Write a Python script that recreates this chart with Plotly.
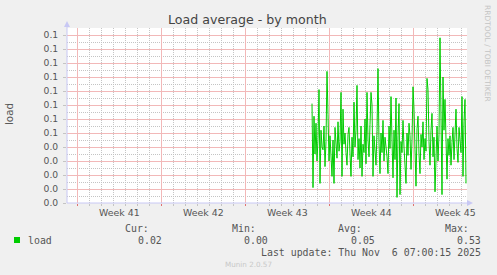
import plotly.graph_objects as go
import pandas as pd

# ---- data ----
load_values = [
    0.071, 0.011, 0.062, 0.035, 0.057, 0.030, 0.046, 0.081, 0.014, 0.052,
    0.040, 0.038, 0.055, 0.026, 0.044, 0.094, 0.063, 0.030, 0.048, 0.036,
    0.019, 0.045, 0.014, 0.054, 0.040, 0.032, 0.058, 0.037, 0.044, 0.079,
    0.019, 0.067, 0.042, 0.050, 0.036, 0.027, 0.049, 0.054, 0.035, 0.019,
    0.047, 0.033, 0.072, 0.040, 0.052, 0.084, 0.031, 0.046, 0.025, 0.055,
    0.019, 0.042, 0.036, 0.060, 0.028, 0.079, 0.045, 0.033, 0.056, 0.079,
    0.070, 0.019, 0.048, 0.038, 0.027, 0.052, 0.096, 0.043, 0.021, 0.050,
    0.036, 0.059, 0.030, 0.047, 0.041, 0.033, 0.021, 0.055, 0.039, 0.076,
    0.045, 0.018, 0.052, 0.031, 0.075, 0.004, 0.048, 0.071, 0.006, 0.044,
    0.036, 0.059, 0.040, 0.028, 0.014, 0.050, 0.034, 0.057, 0.048, 0.024,
    0.045, 0.083, 0.067, 0.038, 0.012, 0.053, 0.062, 0.035, 0.021, 0.049,
    0.040, 0.058, 0.031, 0.046, 0.037, 0.089, 0.081, 0.044, 0.027, 0.052,
    0.064, 0.033, 0.047, 0.008, 0.041, 0.055, 0.030, 0.049, 0.118, 0.040,
    0.006, 0.090, 0.052, 0.074, 0.038, 0.017, 0.046, 0.034, 0.048, 0.027,
    0.043, 0.054, 0.031, 0.047, 0.067, 0.039, 0.029, 0.054, 0.042, 0.036,
    0.076, 0.019, 0.058, 0.074, 0.014,
]
data_start = "2025-10-24 14:00"
data_step = "2h"

range_start = "2025-10-04 04:00"
range_end = "2025-11-06 12:00"

week_starts = ["2025-10-05", "2025-10-12", "2025-10-19", "2025-10-26", "2025-11-02"]
week_labels = ["Week 41", "Week 42", "Week 43", "Week 44", "Week 45"]

y_ticks = [i * 0.01 for i in range(13)]
y_ticktext = [f"{v:.1f}" for v in y_ticks]

series_name = "load"
stat_labels = ["Cur:", "Min:", "Avg:", "Max:"]
stat_values = ["0.02", "0.00", "0.05", "0.53"]
last_update = "Last update: Thu Nov  6 07:00:15 2025"

# ---- figure ----
times = pd.date_range(data_start, periods=len(load_values), freq=data_step)
week_set = set(pd.to_datetime(week_starts))
day_lines = [d for d in pd.date_range("2025-10-05", "2025-11-06", freq="D")
             if d not in week_set]

W, H = 497, 275
L, R, T, B = 67, 467, 28, 203


def px(x):
    return (x - L) / (R - L)


def py(y):
    return (B - y) / (B - T)


GREEN = "#00cc00"
MAJOR = "#f2b8b8"
MINOR = "#c4c4c4"
AXIS = "#c8c8f4"
TXT = "#555555"
SANS = "DejaVu Sans"
MONO = "DejaVu Sans Mono"

fig = go.Figure()
fig.add_trace(go.Scatter(
    x=times, y=load_values, mode="lines",
    line=dict(color=GREEN, width=1), hoverinfo="skip", showlegend=False,
))

fig.update_layout(
    width=W, height=H,
    margin=dict(l=L, r=W - R, t=T, b=H - B, pad=0),
    paper_bgcolor="#f0f0f0", plot_bgcolor="#ffffff",
    showlegend=False,
    xaxis=dict(
        type="date", range=[range_start, range_end],
        tickmode="array", tickvals=week_starts, showticklabels=False,
        showgrid=True, gridcolor=MAJOR, gridwidth=1,
        ticks="outside", ticklen=2, tickcolor="#e07070",
        minor=dict(tickmode="array", tickvals=day_lines, showgrid=True,
                   gridcolor=MINOR, griddash="1px,1px", ticks="outside",
                   ticklen=2, tickcolor=MINOR),
        showline=False, zeroline=False, fixedrange=True,
    ),
    yaxis=dict(
        range=[0, 0.125], tickmode="array", tickvals=y_ticks, ticktext=y_ticktext,
        showgrid=True, gridcolor=MAJOR,
        ticks="outside", ticklen=3, tickcolor=MINOR,
        ticklabelstandoff=3,
        tickfont=dict(family=SANS, size=9.2, color=TXT),
        minor=dict(dtick=0.01, tick0=0.005, showgrid=True, gridcolor=MINOR,
                   griddash="1px,1px"),
        showline=False, zeroline=False, fixedrange=True,
    ),
)

shapes = [
    dict(type="line", xref="paper", yref="paper", x0=px(L), x1=px(469), y0=0, y1=0,
         line=dict(color=AXIS, width=1)),
    dict(type="line", xref="paper", yref="paper", x0=0, x1=0, y0=0, y1=py(25),
         line=dict(color=AXIS, width=1)),
    dict(type="path", xref="paper", yref="paper",
         path=f"M {px(467)} {py(200)} L {px(473)} {py(203)} L {px(467)} {py(206)} Z",
         fillcolor=AXIS, line=dict(width=0)),
    dict(type="path", xref="paper", yref="paper",
         path=f"M {px(64)} {py(27)} L {px(67)} {py(21)} L {px(70)} {py(27)} Z",
         fillcolor=AXIS, line=dict(width=0)),
]
fig.update_layout(shapes=shapes)

ann = []
# week labels centered mid-week
for ws, lab in zip(week_starts, week_labels):
    mid = pd.Timestamp(ws) + pd.Timedelta(hours=84)
    ann.append(dict(x=mid, xref="x", y=py(212), yref="paper", text=lab,
                    showarrow=False, xanchor="center", yanchor="middle",
                    font=dict(family=SANS, size=9.4, color=TXT)))

ann.append(dict(x=px(247.5), y=py(19.5), xref="paper", yref="paper",
                text="Load average - by month", showarrow=False,
                xanchor="center", yanchor="middle",
                font=dict(family=SANS, size=12.6, color="#444444")))
ann.append(dict(x=px(9), y=py(114), xref="paper", yref="paper", text="load",
                textangle=-90, showarrow=False, xanchor="center", yanchor="middle",
                font=dict(family=SANS, size=10.3, color=TXT)))
ann.append(dict(x=px(488), y=py(53), xref="paper", yref="paper",
                text="RRDTOOL / TOBI OETIKER", textangle=90, showarrow=False,
                xanchor="center", yanchor="middle",
                font=dict(family=SANS, size=7.5, color="#c4c4c4")))

# legend block
stat_label_right = [150, 257, 363, 470]
stat_value_right = [163, 269, 376, 482]
for lab, val, lx, vx in zip(stat_labels, stat_values, stat_label_right, stat_value_right):
    ann.append(dict(x=px(lx + 1), y=py(228), xref="paper", yref="paper", text=lab,
                    showarrow=False, xanchor="right", yanchor="middle",
                    font=dict(family=MONO, size=9.9, color=TXT)))
    ann.append(dict(x=px(vx + 1), y=py(240), xref="paper", yref="paper", text=val,
                    showarrow=False, xanchor="right", yanchor="middle",
                    font=dict(family=MONO, size=9.9, color=TXT)))
ann.append(dict(x=px(26), y=py(240), xref="paper", yref="paper", text=series_name,
                showarrow=False, xanchor="left", yanchor="middle",
                font=dict(family=MONO, size=9.9, color=TXT)))
ann.append(dict(x=px(483), y=py(252), xref="paper", yref="paper", text=last_update,
                showarrow=False, xanchor="right", yanchor="middle",
                font=dict(family=MONO, size=9.9, color=TXT)))
ann.append(dict(x=px(248), y=py(264), xref="paper", yref="paper", text="Munin 2.0.57",
                showarrow=False, xanchor="center", yanchor="middle",
                font=dict(family=SANS, size=7.2, color="#c8c8c8")))
fig.update_layout(annotations=ann)

fig.add_shape(type="rect", xref="paper", yref="paper",
              x0=px(14), x1=px(20), y0=py(243), y1=py(237),
              fillcolor=GREEN, line=dict(width=0))

fig.write_html("out.html", config={"displayModeBar": False})
